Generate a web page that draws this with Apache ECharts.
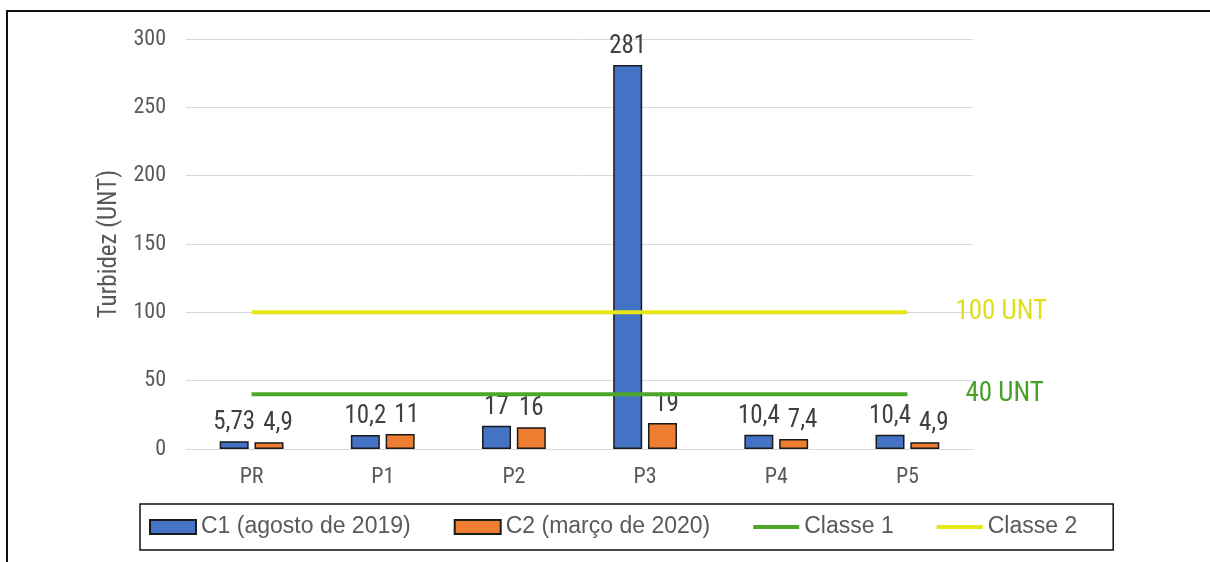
<!DOCTYPE html>
<html>
<head>
<meta charset="utf-8">
<script src="https://cdn.jsdelivr.net/npm/echarts@6/dist/echarts.min.js"></script>
<style>
  html, body { margin: 0; padding: 0; background: #fff; }
  #chart { width: 1210px; height: 562px; }
</style>
</head>
<body>
<div id="chart"></div>
<script>
// Turbidity per sampling point, two campaigns, with class limits
const categories = ['PR', 'P1', 'P2', 'P3', 'P4', 'P5'];
const c1Values = [5.73, 10.2, 17, 281, 10.4, 10.4];
const c2Values = [4.9, 11, 16, 19, 7.4, 4.9];
const classe1Values = [40, 40, 40, 40, 40, 40];
const classe2Values = [100, 100, 100, 100, 100, 100];
const seriesNames = ['C1 (agosto de 2019)', 'C2 (março de 2020)', 'Classe 1', 'Classe 2'];
const limitLabels = ['40 UNT', '100 UNT'];
const yTicks = { min: 0, max: 300, interval: 50 };
const yTitle = 'Turbidez (UNT)';

const narrow = '"Roboto Condensed", Roboto, "Liberation Sans", sans-serif';
const regular = '"Liberation Sans", Arial, sans-serif';
const textGray = '#595959';
const green = '#4ea72a';
const yellow = '#e6e619';
const fmtComma = v => String(v).replace('.', ',');
// thin horizontal bar used as the legend mark of the limit lines
const lineIcon = 'path://M0,0M46,14M0,5L46,5L46,9L0,9Z';

const BAR_W = 29;
const BAR_GAP = 0.2;
const LABEL_SIZE = 25;
const LABEL_SPACE = 8;

// width of a value label, used to keep the two labels of a category apart
const measureCtx = document.createElement('canvas').getContext('2d');
measureCtx.font = LABEL_SIZE + 'px ' + narrow;
const labelWidth = v => measureCtx.measureText(fmtComma(v)).width;

const chart = echarts.init(document.getElementById('chart'), null, { renderer: 'canvas' });

const barLabel = {
  show: true,
  position: 'top',
  distance: 6,
  color: '#404040',
  fontFamily: narrow,
  fontSize: LABEL_SIZE,
  formatter: p => fmtComma(p.value)
};

chart.setOption({
  animation: false,
  backgroundColor: '#fff',
  grid: { left: 186, right: 237, top: 39, bottom: 113, containLabel: false },
  xAxis: {
    type: 'category',
    data: categories,
    axisLine: { show: true, lineStyle: { color: '#d9d9d9', width: 1 } },
    axisTick: { show: false },
    axisLabel: { color: textGray, fontFamily: narrow, fontSize: 22, margin: 17 }
  },
  yAxis: {
    type: 'value',
    min: yTicks.min,
    max: yTicks.max,
    interval: yTicks.interval,
    name: yTitle,
    nameLocation: 'middle',
    nameRotate: 90,
    nameGap: 52,
    nameTextStyle: { color: textGray, fontFamily: narrow, fontSize: 25 },
    axisLine: { show: false },
    axisTick: { show: false },
    splitLine: { lineStyle: { color: '#d9d9d9', width: 1 } },
    axisLabel: { color: textGray, fontFamily: narrow, fontSize: 22, margin: 20 }
  },
  legend: {
    left: 140,
    top: 504,
    orient: 'horizontal',
    borderColor: '#111',
    borderWidth: 1.5,
    padding: [11.5, 36, 11.5, 9],
    itemGap: 43,
    itemWidth: 46,
    itemHeight: 14,
    textStyle: { color: textGray, fontFamily: regular, fontSize: 23 },
    data: [
      { name: seriesNames[0], icon: 'rect' },
      { name: seriesNames[1], icon: 'rect' },
      { name: seriesNames[2], icon: lineIcon, itemStyle: { color: green, borderWidth: 0 } },
      { name: seriesNames[3], icon: lineIcon, itemStyle: { color: yellow, borderWidth: 0 } }
    ]
  },
  graphic: [{
    type: 'rect',
    shape: { x: 7, y: 11, width: 1260, height: 600 },
    style: { fill: 'none', stroke: '#111', lineWidth: 2 },
    silent: true,
    z: 100
  }],
  series: [
    {
      name: seriesNames[0],
      type: 'bar',
      data: c1Values,
      barWidth: BAR_W,
      barGap: (BAR_GAP * 100) + '%',
      itemStyle: { color: '#4472c4', borderColor: '#1a1a1a', borderWidth: 1.5 },
      label: barLabel
    },
    {
      name: seriesNames[1],
      type: 'bar',
      data: c2Values,
      barWidth: BAR_W,
      barGap: (BAR_GAP * 100) + '%',
      itemStyle: { color: '#ed7d31', borderColor: '#1a1a1a', borderWidth: 1.5 },
      label: barLabel,
      // push the second label right when it would touch the first one
      labelLayout: function (params) {
        const i = params.dataIndex;
        const firstCenter = params.rect.x - BAR_W * BAR_GAP - BAR_W / 2;
        const firstRight = firstCenter + labelWidth(c1Values[i]) / 2;
        const dx = Math.max(0, firstRight + LABEL_SPACE - params.labelRect.x);
        return { dx: dx };
      }
    },
    {
      name: seriesNames[2],
      type: 'line',
      data: classe1Values,
      symbol: 'none',
      z: 5,
      lineStyle: { color: green, width: 4 },
      itemStyle: { color: green },
      endLabel: {
        show: true,
        formatter: () => limitLabels[0],
        distance: 58,
        color: '#4a9f28',
        fontFamily: narrow,
        fontSize: 27
      }
    },
    {
      name: seriesNames[3],
      type: 'line',
      data: classe2Values,
      symbol: 'none',
      z: 5,
      lineStyle: { color: yellow, width: 4 },
      itemStyle: { color: yellow },
      endLabel: {
        show: true,
        formatter: () => limitLabels[1],
        distance: 48,
        color: '#dede1c',
        fontFamily: narrow,
        fontSize: 27
      }
    }
  ]
});
</script>
</body>
</html>
